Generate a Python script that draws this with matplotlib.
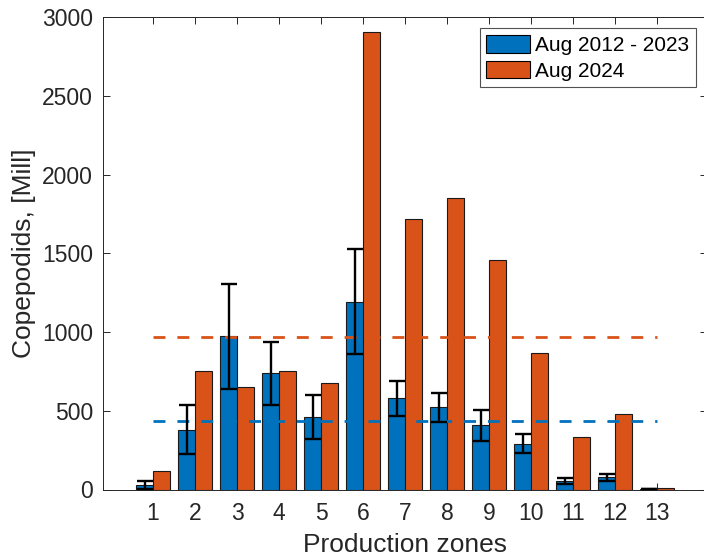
import matplotlib
matplotlib.use("Agg")
import matplotlib.pyplot as plt
import numpy as np

plt.rcParams['font.family'] = ['Liberation Sans', 'DejaVu Sans']

zones = [1, 2, 3, 4, 5, 6, 7, 8, 9, 10, 11, 12, 13]
hist_mean = [29, 380, 973, 738, 461, 1193, 579, 521, 408, 292, 52, 77, 3]
hist_err = [25, 156, 333, 199, 140, 331, 110, 94, 97, 60, 19, 23, 2]
aug2024 = [119, 750, 649, 755, 674, 2903, 1716, 1848, 1455, 867, 331, 481, 11]
hist_avg_line = 437
aug2024_avg_line = 966
yticks = [0, 500, 1000, 1500, 2000, 2500, 3000]
labels = ['Aug 2012 - 2023', 'Aug 2024']

BLUE = '#0072BD'
ORANGE = '#D95319'
AX = '#262626'

W, H = 704, 558
fig = plt.figure(figsize=(W / 100, H / 100), dpi=100)
left, right, top, bottom = 102.7, 707.3, 17.0, 489.5
ax = fig.add_axes([left / W, 1 - bottom / H, (right - left) / W, (bottom - top) / H])

x = np.array(zones, dtype=float)
bw = 0.4
ax.bar(x - bw / 2, hist_mean, width=bw, color=BLUE, edgecolor='#1a1a1a', linewidth=0.8,
       label=labels[0], zorder=2)
ax.bar(x + bw / 2, aug2024, width=bw, color=ORANGE, edgecolor='#1a1a1a', linewidth=0.8,
       label=labels[1], zorder=2)
ax.errorbar(x - bw / 2, hist_mean, yerr=hist_err, fmt='none', ecolor='black',
            elinewidth=1.7, capsize=6, capthick=1.7, zorder=4)

ax.plot([zones[0], zones[-1]], [hist_avg_line] * 2, color=BLUE, lw=2,
        dashes=(4.3, 4.3), zorder=3)
ax.plot([zones[0], zones[-1]], [aug2024_avg_line] * 2, color=ORANGE, lw=2,
        dashes=(4.3, 4.3), zorder=3)

ax.set_xlim(-0.2, 14.2)
ax.set_ylim(0, 3000)
ax.set_xticks(zones)
ax.set_xticklabels([str(z) for z in zones])
ax.set_yticks(yticks)
ax.set_yticklabels([str(v) for v in yticks])

for s in ax.spines.values():
    s.set_color(AX)
    s.set_linewidth(0.7)
ax.tick_params(axis='both', direction='in', length=5, width=0.7, color=AX,
               labelcolor=AX, labelsize=16.5, top=True, right=True)
ax.tick_params(axis='y', pad=7)
ax.tick_params(axis='x', pad=9)

ax.set_xlabel('Production zones', fontsize=19, color=AX, labelpad=6)
ax.set_ylabel('Copepodids, [Mill]', fontsize=19, color=AX, labelpad=4)

leg = ax.legend(loc='upper right', bbox_to_anchor=(695.7 / W, 1 - 28.3 / H),
                bbox_transform=fig.transFigure, borderaxespad=0, fontsize=15,
                frameon=True, fancybox=False, handlelength=2.1, handleheight=0.95,
                handletextpad=0.25, labelspacing=0.28, borderpad=0.3)
leg.get_frame().set_edgecolor(AX)
leg.get_frame().set_linewidth(0.8)
for h in leg.legend_handles:
    h.set_edgecolor('black')
for t in leg.get_texts():
    t.set_color('black')

fig.savefig('out.png', dpi=100)
